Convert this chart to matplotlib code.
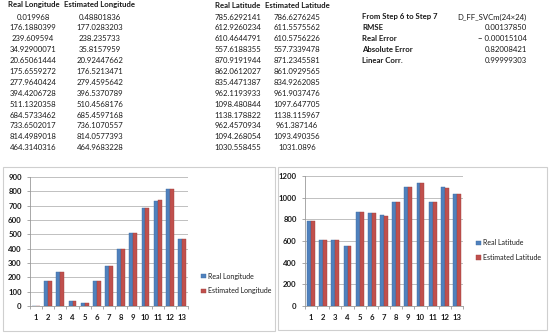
import matplotlib
matplotlib.use("Agg")
import matplotlib.pyplot as plt
from matplotlib.patches import Rectangle

plt.rcParams['font.family'] = ['Lato', 'DejaVu Sans']

# table data
real_lon = ["0.019968", "176.1880399", "239.609594", "34.92900071", "20.65061444",
            "175.6559272", "277.9640424", "394.4206728", "511.1320358", "684.5733462",
            "733.6502017", "814.4989018", "464.3140316"]
est_lon = ["0.48801836", "177.0283203", "238.235733", "35.8157959", "20.92447662",
           "176.5213471", "279.4595642", "396.5370789", "510.4568176", "685.4597168",
           "736.1070557", "814.0577393", "464.9683228"]
real_lat = ["785.6292141", "612.9260234", "610.4644791", "557.6188355", "870.9191944",
            "862.0612027", "835.4471387", "962.1193933", "1098.480844", "1138.178822",
            "962.4570934", "1094.268054", "1030.558455"]
est_lat = ["786.6276245", "611.5575562", "610.5756226", "557.7339478", "871.2345581",
           "861.0929565", "834.9262085", "961.9037476", "1097.647705", "1138.115967",
           "961.387146", "1093.490356", "1031.0896"]
stat_names = ["RMSE", "Real Error", "Absolute Error", "Linear Corr."]
stat_values = ["0.00137850", "\u2212 0.00015104", "0.82008421", "0.99999303"]
categories = list(range(1, 14))

W, H = 550, 334
fig = plt.figure(figsize=(W / 100, H / 100), dpi=100)

def fx(x):
    return x / W

def fy(y):
    return 1 - y / H

txt = '#1a1a1a'
fs = 5.6

# top tables
fig.text(fx(34), fy(5), "Real Longitude", ha='center', va='center', fontsize=fs, weight='bold', color=txt)
fig.text(fx(99), fy(5), "Estimated Longitude", ha='center', va='center', fontsize=fs, weight='bold', color=txt)
fig.text(fx(238), fy(5), "Real Latitude", ha='center', va='center', fontsize=fs, weight='bold', color=txt)
fig.text(fx(297), fy(5), "Estimated Latitude", ha='center', va='center', fontsize=fs, weight='bold', color=txt)
for i in range(13):
    y = fy(17 + i * 10.9)
    fig.text(fx(33), y, real_lon[i], ha='center', va='center', fontsize=fs, color=txt)
    fig.text(fx(100), y, est_lon[i], ha='center', va='center', fontsize=fs, color=txt)
    fig.text(fx(238), y, real_lat[i], ha='center', va='center', fontsize=fs, color=txt)
    fig.text(fx(297), y, est_lat[i], ha='center', va='center', fontsize=fs, color=txt)

fig.text(fx(362), fy(17), "From Step 6 to Step 7", ha='left', va='center', fontsize=fs, weight='bold', color=txt)
fig.text(fx(527), fy(17), "D_FF_SVCm(24\u00d724)", ha='right', va='center', fontsize=fs, color=txt)
for i, (n, v) in enumerate(zip(stat_names, stat_values)):
    y = fy(17 + (i + 1) * 10.9)
    fig.text(fx(362), y, n, ha='left', va='center', fontsize=fs, weight='bold', color=txt)
    fig.text(fx(527), y, v, ha='right', va='center', fontsize=fs, color=txt)

# chart frames
fig.patches.append(Rectangle((fx(3), fy(331)), fx(272), 164 / H, transform=fig.transFigure,
                             fill=False, edgecolor='#cfcfcf', lw=0.8))
fig.patches.append(Rectangle((fx(278), fy(330)), fx(269), 163 / H, transform=fig.transFigure,
                             fill=False, edgecolor='#cfcfcf', lw=0.8))

blue = '#4F81BD'
red = '#C0504D'

def bar_chart(rect, real, est, ymax, step, labels, leg_xy):
    ax = fig.add_axes(rect)
    r = [float(v) for v in real]
    e = [float(v) for v in est]
    xs = [c - 0.16 for c in categories]
    xe = [c + 0.16 for c in categories]
    ax.bar(xs, r, width=0.32, color=blue, edgecolor='#3c6aa3', lw=0.3, label=labels[0], zorder=3)
    ax.bar(xe, e, width=0.32, color=red, edgecolor='#a03f3c', lw=0.3, label=labels[1], zorder=3)
    ax.set_xlim(0.5, 13.5)
    ax.set_ylim(0, ymax)
    ax.set_yticks(range(0, ymax + 1, step))
    ax.set_xticks(categories)
    ax.set_xticks([c + 0.5 for c in range(0, 14)], minor=True)
    ax.grid(axis='y', color='#b5b5b5', lw=0.6, zorder=0)
    for s in ['top', 'right']:
        ax.spines[s].set_visible(False)
    for s in ['left', 'bottom']:
        ax.spines[s].set_color('#9a9a9a')
        ax.spines[s].set_linewidth(0.6)
    ax.tick_params(axis='x', which='major', length=0, labelsize=5.6, pad=6, labelcolor=txt)
    ax.tick_params(axis='x', which='minor', length=2.5, color='#9a9a9a', width=0.6)
    ax.tick_params(axis='y', length=2, color='#9a9a9a', width=0.6, labelsize=5.6, pad=4, labelcolor=txt)
    for t in ax.get_xticklabels() + ax.get_yticklabels():
        t.set_fontweight('bold')
    leg = ax.legend(loc='center left', bbox_to_anchor=(fx(leg_xy[0]), fy(leg_xy[1])),
                    bbox_transform=fig.transFigure, frameon=False, fontsize=5.0,
                    handlelength=0.6, handleheight=0.6, handletextpad=0.4, labelspacing=1.1,
                    borderpad=0)
    for t in leg.get_texts():
        t.set_color(txt)
    return ax

bar_chart([fx(30), fy(306), 158 / W, 129 / H], real_lon, est_lon, 900, 100,
          ["Real Longitude", "Estimated Longitude"], (198, 283.5))
bar_chart([fx(305), fy(306), 158 / W, 130 / H], real_lat, est_lat, 1200, 200,
          ["Real Latitude", "Estimated Latitude"], (473, 250))

fig.savefig("out.png", dpi=100)
